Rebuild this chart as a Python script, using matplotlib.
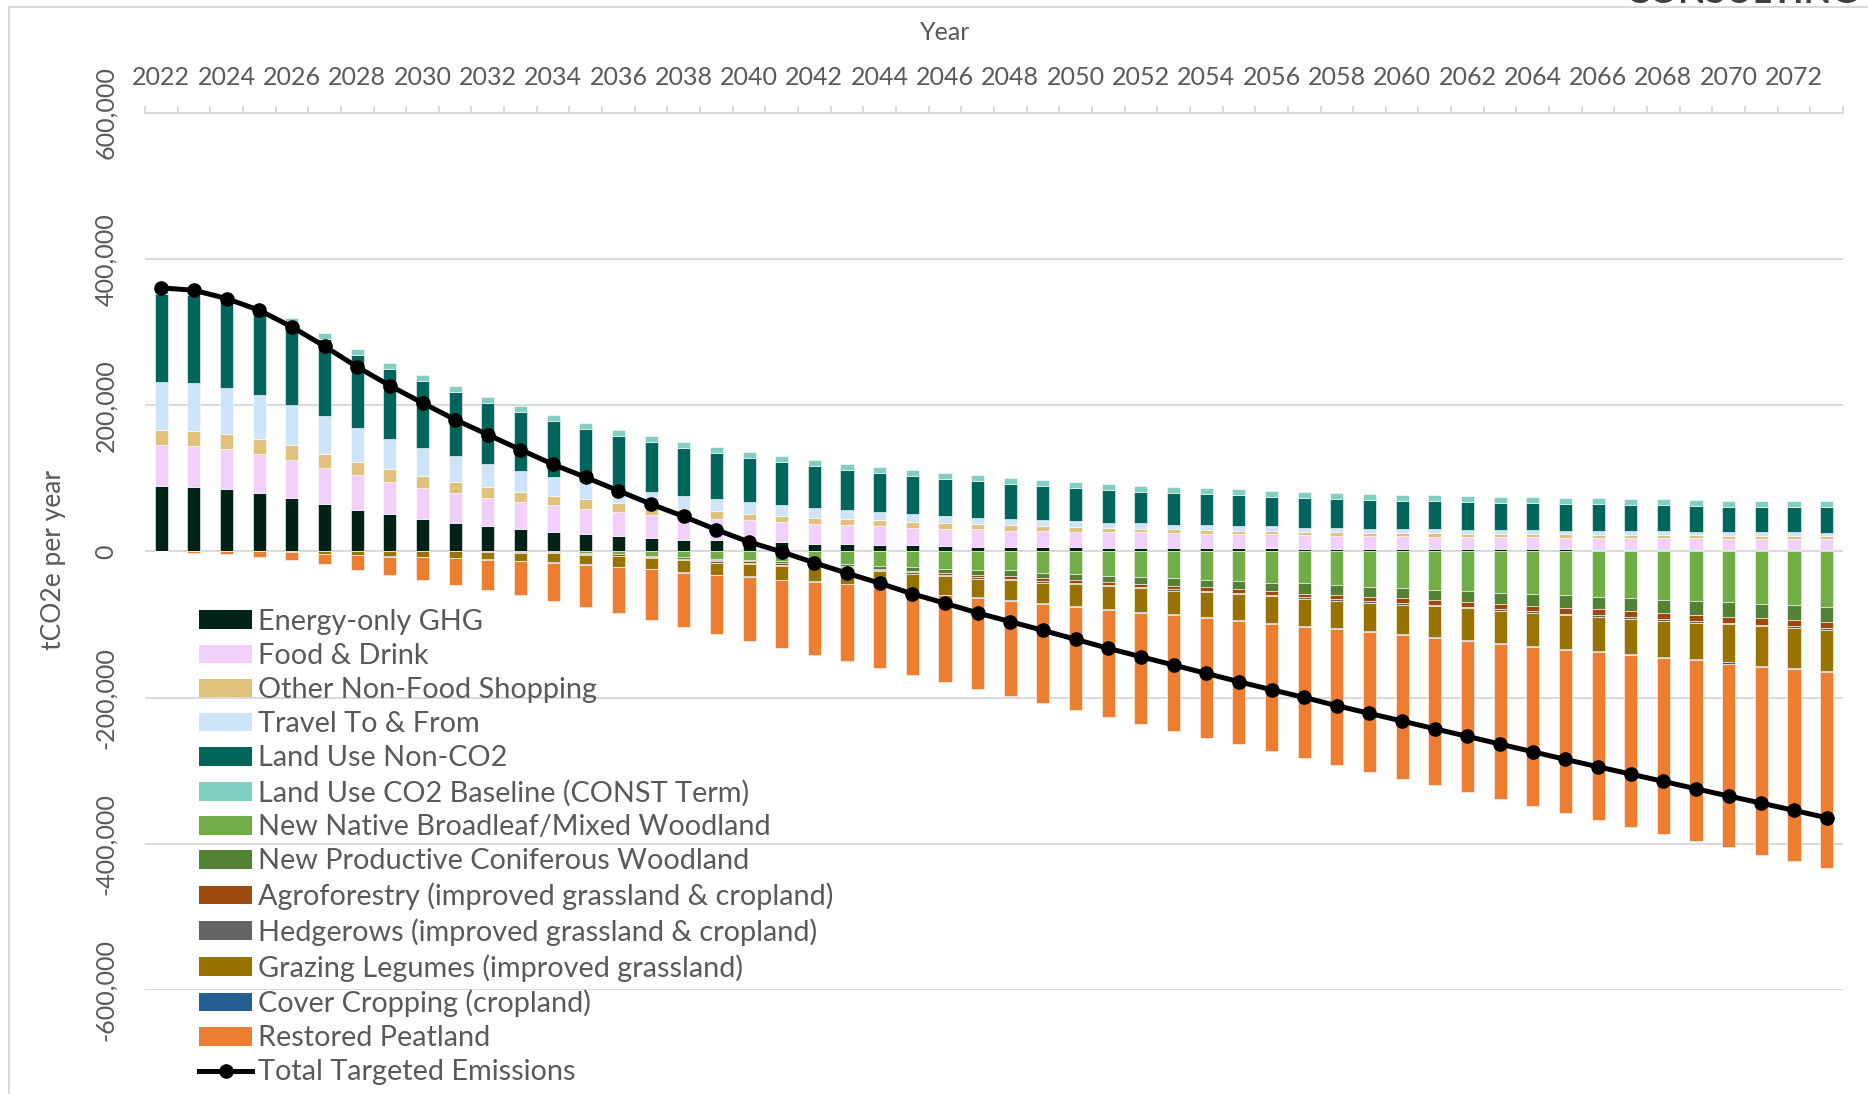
import matplotlib.pyplot as plt
from matplotlib.patches import Patch
from matplotlib.lines import Line2D
from matplotlib.ticker import FuncFormatter

OUT_PATH = "out.png"

plt.rcParams["font.family"] = ["Lato", "DejaVu Sans"]

years = list(range(2022, 2074))

# all values in thousand tCO2e per year
energy_only = [90.0, 88.6, 85.4, 79.9, 73.5, 65.3, 57.1, 50.7, 44.3, 39.3, 34.2, 30.1, 26.9,
               23.7, 21.5, 18.3, 16.4, 15.5, 13.2, 12.3, 10.9, 10.0, 9.1, 8.2, 7.3, 6.8, 6.4,
               5.9, 5.5, 5.0, 4.6, 4.1, 4.1, 4.1, 4.1, 3.7, 3.2, 3.0, 3.0, 2.9, 2.9, 2.8, 2.8,
               2.8, 2.7, 2.7, 2.7, 2.7, 2.6, 2.6, 2.6, 2.6]
food_drink = [56.1, 56.1, 55.2, 53.9, 51.6, 49.3, 47.5, 44.7, 42.9, 41.1, 39.3, 37.9, 36.1,
              34.7, 32.8, 31.5, 30.5, 29.5, 29.2, 27.8, 26.9, 26.0, 25.5, 24.6, 24.1, 23.3, 22.3,
              22.3, 21.8, 21.4, 21.4, 21.0, 20.5, 20.0, 19.6, 19.1, 18.3, 18.3, 17.8, 17.4, 17.4,
              16.9, 16.5, 16.3, 16.0, 15.8, 15.6, 15.4, 15.1, 15.1, 15.1, 15.1]
other_shopping = [20.6, 20.6, 20.6, 20.1, 20.1, 18.7, 18.2, 16.9, 16.4, 15.0, 14.6, 13.7, 13.3,
                  12.8, 12.4, 12.0, 11.5, 10.1, 9.5, 9.1, 8.7, 8.6, 7.8, 7.7, 7.3, 7.3, 7.3,
                  6.4, 6.4, 5.9, 5.4, 5.4, 5.0, 4.6, 5.0, 4.1, 5.0, 4.6, 4.6, 4.6, 4.1,
                  4.1, 4.1, 4.3, 4.1, 3.9, 3.9, 3.8, 4.0, 3.8, 3.7, 3.7]
travel = [65.7, 65.3, 63.0, 60.2, 55.7, 51.6, 45.7, 41.6, 37.5, 34.7, 31.5, 28.8, 26.0,
          23.3, 20.7, 19.9, 17.9, 16.4, 15.5, 14.1, 13.6, 12.4, 11.4, 10.5, 10.5, 9.1, 8.6,
          8.2, 7.8, 7.3, 6.9, 6.4, 6.4, 6.8, 5.5, 5.5, 5.9, 5.4, 5.5, 5.4, 5.5,
          5.5, 5.5, 5.0, 5.1, 5.0, 5.2, 5.0, 5.1, 4.9, 5.0, 4.5]
land_use_non_co2 = [120.1, 120.1, 117.4, 114.7, 110.5, 105.9, 100.9, 96.3, 91.8, 87.7, 84.1, 79.9,
                    76.7, 73.5, 71.0, 68.5, 65.7, 63.8, 61.1, 58.8, 57.0, 55.1, 53.7, 52.9, 50.6,
                    49.6, 48.3, 47.4, 46.0, 45.1, 43.7, 43.7, 42.8, 41.5, 41.0, 41.1, 39.7, 39.8,
                    38.8, 38.4, 37.9, 37.5, 37.0, 36.5, 36.5, 36.1, 35.6, 35.2, 34.7, 34.7, 34.2,
                    34.3]
land_use_co2_baseline = [8.2] * 52

native_broadleaf = [0, 0, 0, 0, 0, 0, 0, 0, 0, 0, 0, 0, -0.5, -1.8, -3.2, -5.5, -7.8, -10.0,
                    -11.0, -13.7, -15.5, -16.9, -19.6, -20.6, -23.3, -24.7, -26.0, -28.8, -30.2,
                    -32.9, -34.3, -36.6, -38.4, -39.8, -42.5, -43.8, -46.5, -48.3, -50.2, -52.4,
                    -54.3, -56.5, -57.9, -60.2, -62.0, -63.8, -66.1, -67.9, -69.8, -72.0, -73.0,
                    -75.7]
productive_conifer = [0, 0, 0, 0, 0, 0, 0, 0, 0, 0, 0, 0, 0, -0.5, -0.9, -1.4, -1.8, -2.3,
                      -2.7, -2.3, -2.7, -2.7, -3.8, -5.5, -5.9, -7.3, -8.2, -7.8, -8.7, -8.2,
                      -10.0, -10.5, -10.5, -11.4, -11.9, -13.7, -13.2, -13.7, -13.7, -14.1, -15.0,
                      -15.5, -16.4, -16.9, -17.3, -18.2, -18.7, -19.6, -19.6, -19.6, -21.4, -21.4]
agroforestry = [0, 0, 0, 0, 0, 0, 0, 0, 0, 0, -0.5, -0.9, -1.4, -1.4, -1.4, -1.4, -1.4, -1.4,
                -1.4, -2.3, -1.4, -1.8, -2.3, -2.3, -2.3, -3.2, -3.7, -4.1, -3.7, -4.1, -3.7,
                -4.1, -4.6, -5.0, -4.6, -4.6, -5.5, -5.9, -6.4, -6.4, -6.8, -6.8, -7.3, -7.8,
                -7.8, -7.8, -7.8, -8.2, -8.7, -8.7, -7.8, -7.8]
hedgerows = [0, 0, 0, 0, 0, 0, 0, 0, 0, 0, 0, -0.5, -0.5, -0.9, -0.9, -0.9, -0.9, -1.4,
             -1.4, -1.4, -1.4, -1.4, -1.4, -2.3, -1.8, -1.8, -1.8, -1.8, -2.3, -2.3, -2.3,
             -2.3, -2.3, -1.8, -2.3, -2.3, -2.3, -2.3, -2.3, -2.3, -1.8, -2.3, -2.3, -1.8,
             -2.3, -2.3, -2.3, -1.8, -1.8, -2.3, -2.7, -2.7]
grazing_legumes = [0, 0, 0, 0, -1.0, -3.2, -5.0, -6.4, -7.3, -8.6, -10.0, -11.0, -12.2, -13.2,
                   -14.2, -14.6, -16.5, -16.9, -17.4, -18.7, -20.0, -21.5, -23.0, -24.5, -25.6,
                   -25.6, -26.5, -27.9, -29.7, -30.6, -32.0, -32.4, -33.8, -35.6, -36.6, -36.9,
                   -37.8, -39.2, -40.6, -42.0, -43.3, -43.8, -45.1, -46.1, -47.4, -48.3, -49.2,
                   -50.2, -52.0, -53.8, -54.7, -55.6]
cover_cropping = [0, 0, 0, 0, 0, 0, 0, -0.5, -0.5, -0.5, -0.5, -0.5, -0.5, -0.5, -0.5, -0.5,
                  -0.5, -0.5, -0.5, -0.5, -0.5, -0.5, -0.5, -0.5, -0.9, -1.4, -1.4, -1.4, -1.4,
                  -1.4, -1.4, -1.4, -1.4, -1.4, -1.4, -1.4, -1.4, -1.4, -1.4, -1.4, -1.4, -1.4,
                  -1.4, -1.4, -1.4, -1.4, -1.4, -1.4, -1.4, -1.4, -1.4, -1.4]
restored_peatland = [0, -1.4, -3.7, -6.9, -10.4, -14.6, -19.7, -25.1, -30.6, -36.6, -41.6, -47.0,
                     -52.5, -57.6, -63.4, -69.0, -73.9, -80.4, -87.6, -92.7, -99.7, -105.5,
                     -109.0, -113.0, -118.4, -124.3, -130.2, -135.7, -140.8, -146.7, -152.2,
                     -157.7, -163.6, -168.6, -174.1, -179.7, -185.1, -190.6, -196.5, -201.6,
                     -207.0, -213.0, -218.4, -223.4, -229.4, -235.3, -240.8, -246.7, -251.7,
                     -257.4, -262.7, -268.6]

total_targeted = [360.7, 357.5, 346.1, 330.1, 307.3, 280.8, 252.5, 226.9, 203.2, 180.4, 159.8,
                  139.3, 119.2, 101.4, 83.1, 64.8, 47.9, 29.7, 13.0, -0.5, -15.5, -29.7, -43.4,
                  -58.0, -70.8, -84.1, -96.0, -107.9, -120.2, -132.5, -144.0, -155.4, -166.8,
                  -178.2, -189.2, -199.7, -211.0, -221.6, -232.0, -242.6, -253.0, -263.6,
                  -274.0, -284.5, -294.6, -304.6, -314.6, -324.7, -334.7, -344.3, -354.3, -364.3]

UNIT = 1000

POSITIVE = [
    ("Energy-only GHG", energy_only, "#002219"),
    ("Food & Drink", food_drink, "#f1d1fc"),
    ("Other Non-Food Shopping", other_shopping, "#e0c27d"),
    ("Travel To & From", travel, "#cde4fb"),
    ("Land Use Non-CO2", land_use_non_co2, "#00665b"),
    ("Land Use CO2 Baseline (CONST Term)", land_use_co2_baseline, "#80cfc1"),
]
NEGATIVE = [
    ("New Native Broadleaf/Mixed Woodland", native_broadleaf, "#70ad47"),
    ("New Productive Coniferous Woodland", productive_conifer, "#548235"),
    ("Agroforestry (improved grassland & cropland)", agroforestry, "#9e480e"),
    ("Hedgerows (improved grassland & cropland)", hedgerows, "#636363"),
    ("Grazing Legumes (improved grassland)", grazing_legumes, "#997300"),
    ("Cover Cropping (cropland)", cover_cropping, "#255e91"),
    ("Restored Peatland", restored_peatland, "#ed7d31"),
]

GRID = "#d9d9d9"
TEXT = "#595959"


def draw_stack(ax, x, series):
    base = [0.0] * len(x)
    for label, values, color in series:
        vals = [v * UNIT for v in values]
        ax.bar(x, vals, bottom=base, width=0.4, color=color, edgecolor="white",
               linewidth=0.4, zorder=2)
        base = [b + v for b, v in zip(base, vals)]


def main():
    fig = plt.figure(figsize=(18.68, 10.94), dpi=100)
    ax = fig.add_axes([0.0776, 0.0951, 0.909, 0.8016])

    x = list(range(len(years)))
    draw_stack(ax, x, POSITIVE)
    draw_stack(ax, x, NEGATIVE)
    ax.plot(x, [v * UNIT for v in total_targeted], color="black", linewidth=3.6,
            marker="o", markersize=9.5, zorder=4)

    ax.set_xlim(-0.5, len(years) - 0.5)
    ax.set_ylim(-600000, 600000)

    # y axis
    ax.set_yticks(range(-600000, 600001, 200000))
    ax.yaxis.set_major_formatter(FuncFormatter(lambda v, p: f"{int(v):,}"))
    ax.tick_params(axis="y", length=0, pad=20, labelsize=18, labelcolor=TEXT)
    for lab in ax.get_yticklabels():
        lab.set_rotation(90)
        lab.set_va("center")
    ax.grid(axis="y", color=GRID, linewidth=1.4, zorder=0)
    ax.set_axisbelow(True)

    # category axis on top
    ax.xaxis.tick_top()
    ax.set_xticks([i - 0.5 for i in range(len(years) + 1)])
    ax.set_xticklabels([])
    ax.set_xticks(x[::2], minor=True)
    ax.set_xticklabels([str(y) for y in years[::2]], minor=True)
    ax.tick_params(axis="x", which="major", direction="out", length=5, width=1.4,
                   color=GRID, top=True, bottom=False)
    ax.tick_params(axis="x", which="minor", length=0, pad=17, labelsize=18,
                   labelcolor=TEXT, top=True, bottom=False)

    for side in ["left", "right", "bottom"]:
        ax.spines[side].set_visible(False)
    ax.spines["top"].set_color(GRID)
    ax.spines["top"].set_linewidth(1.4)

    fig.text(945 / 1868, 1 - 32 / 1094, "Year", ha="center", va="center",
             fontsize=18, color=TEXT)
    fig.text(54 / 1868, 0.488, "tCO2e per year", rotation=90, ha="center",
             va="center", fontsize=19, color=TEXT)

    handles = [Patch(facecolor=c, edgecolor="none", label=l) for l, _, c in POSITIVE + NEGATIVE]
    handles.append(Line2D([], [], color="black", linewidth=3.6, marker="o",
                          markersize=9.5, label="Total Targeted Emissions"))
    fig.legend(handles=handles, loc="upper left",
               bbox_to_anchor=(199 / 1868, 1 - 609 / 1094), frameon=False,
               fontsize=20.8, labelcolor=TEXT, handlelength=1.85, handleheight=0.62,
               handletextpad=0.2, labelspacing=0.28, borderpad=0, borderaxespad=0)

    # chart area border and clipped watermark
    fig.add_artist(Line2D([9 / 1868, 9 / 1868], [0, 1 - 7 / 1094],
                          transform=fig.transFigure, color=GRID, linewidth=1.4))
    fig.add_artist(Line2D([9 / 1868, 1], [1 - 7 / 1094, 1 - 7 / 1094],
                          transform=fig.transFigure, color=GRID, linewidth=1.4))
    fig.text(1626 / 1868, 1 - 3 / 1094, "CONSULTING", ha="left", va="baseline",
             fontsize=26, fontweight="bold", color="#404040")

    fig.savefig(OUT_PATH, dpi=100)
    plt.close(fig)
    print(f"Saved: {OUT_PATH}")


if __name__ == "__main__":
    main()
